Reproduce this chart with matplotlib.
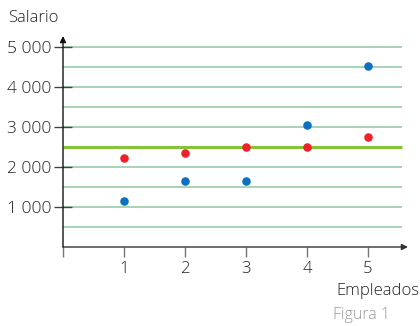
import matplotlib
matplotlib.use('Agg')
import matplotlib.pyplot as plt

plt.rcParams['font.family'] = ['Open Sans', 'DejaVu Sans']

# datos
empleados = [1, 2, 3, 4, 5]
salario_azul = [1150, 1650, 1650, 3060, 4520]
salario_rojo = [2230, 2360, 2510, 2510, 2740]
media = 2500
y_ticks = [1000, 2000, 3000, 4000, 5000]
y_labels = ['1 000', '2 000', '3 000', '4 000', '5 000']
grid_y = [500, 1000, 1500, 2000, 3000, 3500, 4000, 4500, 5000]

fig = plt.figure(figsize=(4.2, 3.26), dpi=100)
W, H = 420, 326
x0, x1 = 63, 408
y0, y1 = 247, 36
ax = fig.add_axes([x0 / W, (H - y0) / H, (x1 - x0) / W, (y0 - y1) / H])
xmax = (x1 - x0) / 61.0
ymax = (y0 - y1) / 40.0 * 1000
ax.set_xlim(0, xmax)
ax.set_ylim(0, ymax)
for s in ax.spines.values():
    s.set_visible(False)

grid_end = (402 - x0) / 61.0
ax.hlines(grid_y, 0, grid_end, color='#8fc7a0', lw=1.1, zorder=1)
ax.hlines([media], 0, grid_end, color='#86c23a', lw=2.2, zorder=2)

# ejes con flechas
ax.annotate('', xy=(xmax, 0), xytext=(0, 0), annotation_clip=False,
            arrowprops=dict(arrowstyle='-|>', color='#333333', lw=1.0,
                            mutation_scale=9, shrinkA=0, shrinkB=0))
ax.annotate('', xy=(0, ymax), xytext=(0, 0), annotation_clip=False,
            arrowprops=dict(arrowstyle='-|>', color='#111111', lw=1.0,
                            mutation_scale=9, shrinkA=0, shrinkB=0))

ax.scatter(empleados, salario_azul, s=38, color='#0a72c0', zorder=4, linewidths=0)
ax.scatter(empleados, salario_rojo, s=38, color='#ee2229', zorder=4, linewidths=0)

ax.set_xticks([0] + empleados)
ax.set_xticklabels([''] + [str(e) for e in empleados], fontsize=12,
                   color='#222222', fontweight='light')
ax.tick_params(axis='x', length=7, width=1, color='#777777', pad=3, direction='out')
ax.set_yticks(y_ticks)
ax.set_yticklabels(y_labels, fontsize=12.5, color='#222222', fontweight='light')
ax.tick_params(axis='y', length=13, width=1, color='#444444', pad=2, direction='inout')

fig.text(8 / W, 1 - 18 / H, 'Salario', fontsize=12, color='#222222',
         va='center', ha='left', fontweight='light')
fig.text(419 / W, 1 - 291 / H, 'Empleados', fontsize=12, color='#222222',
         va='center', ha='right', fontweight='light')
fig.text(390 / W, 1 - 315 / H, 'Figura 1', fontsize=11.5, color='#999999',
         va='center', ha='right', fontweight='light')

fig.savefig('out.png', dpi=100)
